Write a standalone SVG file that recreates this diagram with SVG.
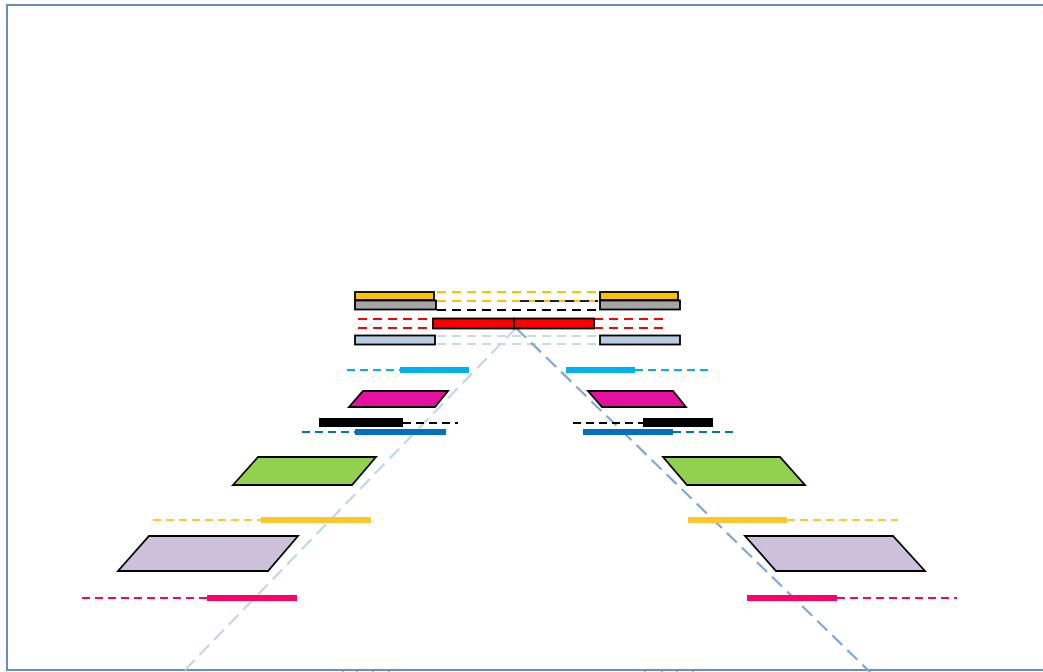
<svg xmlns="http://www.w3.org/2000/svg" width="1043" height="672" viewBox="0 0 1043 672">
  <style>
    .box { stroke: #000; stroke-width: 1.8; }
    .para { stroke: #000; stroke-width: 1.8; stroke-linejoin: miter; }
    .bar { stroke-width: 6; stroke-linecap: butt; fill: none; }
    .dash { stroke-width: 2; stroke-dasharray: 8 5; fill: none; }
    .dashTop { stroke-width: 1.8; stroke-dasharray: 9 6; fill: none; }
  </style>
  <rect x="0" y="0" width="1043" height="672" fill="#fff"/>
  <!-- frame -->
  <rect x="7" y="5" width="1045" height="665" fill="none" stroke="#6a8dbd" stroke-width="2"/>
  <g id="frame-ticks" stroke="#6a8dbd" stroke-width="1.2">
    <line x1="343" y1="670" x2="343" y2="672"/>
    <line x1="357" y1="670" x2="357" y2="672"/>
    <line x1="373" y1="670" x2="373" y2="672"/>
    <line x1="389" y1="670" x2="389" y2="672"/>
    <line x1="645" y1="670" x2="645" y2="672"/>
    <line x1="662" y1="670" x2="662" y2="672"/>
    <line x1="677" y1="670" x2="677" y2="672"/>
    <line x1="693" y1="670" x2="693" y2="672"/>
  </g>

  <!-- connectors: dashed guide lines -->
  <g id="connectors">
    <line class="dashTop" x1="437" y1="292" x2="598" y2="292" stroke="#ffc000"/>
    <line class="dashTop" x1="437" y1="301" x2="598" y2="301" stroke="#ffc000"/>
    <line class="dashTop" x1="520" y1="301" x2="598" y2="301" stroke="#222" stroke-dasharray="5 11"/>
    <line class="dashTop" x1="437" y1="310" x2="598" y2="310" stroke="#000"/>
    <line class="dashTop" x1="358" y1="319" x2="433" y2="319" stroke="#ff0000"/>
    <line class="dashTop" x1="358" y1="328" x2="433" y2="328" stroke="#ff0000"/>
    <line class="dashTop" x1="594" y1="319" x2="666" y2="319" stroke="#ff0000"/>
    <line class="dashTop" x1="594" y1="328" x2="666" y2="328" stroke="#ff0000"/>
    <line class="dashTop" x1="437" y1="336" x2="598" y2="336" stroke="#c5d9f1"/>
    <line class="dashTop" x1="437" y1="344" x2="598" y2="344" stroke="#c5d9f1"/>

    <!-- perspective guides -->
    <line x1="516" y1="328" x2="183" y2="672" stroke="#c2d6ee" stroke-width="2.2" stroke-dasharray="14 7"/>
    <line x1="516" y1="328" x2="870" y2="672" stroke="#7fa8da" stroke-width="2.2" stroke-dasharray="14 7"/>

    <line class="dash" x1="347" y1="370" x2="400" y2="370" stroke="#00b0f0"/>
    <line class="dash" x1="635" y1="370" x2="709" y2="370" stroke="#00b0f0"/>
    <line class="dash" x1="403" y1="423" x2="458" y2="423" stroke="#000"/>
    <line class="dash" x1="573" y1="423" x2="643" y2="423" stroke="#000"/>
    <line class="dash" x1="302" y1="432" x2="355" y2="432" stroke="#0070c0"/>
    <line class="dash" x1="673" y1="432" x2="734" y2="432" stroke="#0070c0"/>
    <line class="dash" x1="153" y1="520" x2="261" y2="520" stroke="#ffc72c"/>
    <line class="dash" x1="787" y1="520" x2="898" y2="520" stroke="#ffc72c"/>
    <line class="dash" x1="82" y1="598" x2="207" y2="598" stroke="#ff0066"/>
    <line class="dash" x1="837" y1="598" x2="957" y2="598" stroke="#ff0066"/>
  </g>

  <!-- upper stack -->
  <g id="top-left">
    <rect class="box" x="355" y="300.5" width="81" height="9" fill="#a6a6a6"/>
    <rect class="box" x="355" y="292" width="79" height="8" fill="#ffc000"/>
    <rect class="box" x="355" y="335.5" width="80" height="9" fill="#b8cce4"/>
  </g>
  <g id="top-right">
    <rect class="box" x="600" y="300.5" width="80" height="9" fill="#a6a6a6"/>
    <rect class="box" x="600" y="292" width="78" height="8" fill="#ffc000"/>
    <rect class="box" x="600" y="335.5" width="80" height="9" fill="#b8cce4"/>
  </g>
  <g id="center-red">
    <rect class="box" x="433" y="318.5" width="81" height="10" fill="#ff0000"/>
    <rect class="box" x="514" y="318.5" width="80" height="10" fill="#ff0000"/>
  </g>

  <!-- cyan bars -->
  <g id="cyan-left"><line class="bar" x1="400" y1="370" x2="469" y2="370" stroke="#00b0f0"/></g>
  <g id="cyan-right"><line class="bar" x1="566" y1="370" x2="635" y2="370" stroke="#00b0f0"/></g>

  <!-- magenta tiles -->
  <g id="magenta-left"><polygon class="para" points="349,407 363,391 448,391 435,407" fill="#e50fa0"/></g>
  <g id="magenta-right"><polygon class="para" points="588,391 673,391 686,407 602,407" fill="#e50fa0"/></g>

  <!-- black bars -->
  <g id="black-left"><rect x="319" y="418" width="84" height="9" fill="#000"/></g>
  <g id="black-right"><rect x="643" y="418" width="70" height="9" fill="#000"/></g>

  <!-- blue bars -->
  <g id="blue-left"><line class="bar" x1="355" y1="432" x2="446" y2="432" stroke="#0070c0"/></g>
  <g id="blue-right"><line class="bar" x1="583" y1="432" x2="673" y2="432" stroke="#0070c0"/></g>

  <!-- green tiles -->
  <g id="green-left"><polygon class="para" points="233,485 258,457 376,457 352,485" fill="#92d050"/></g>
  <g id="green-right"><polygon class="para" points="663,457 780,457 805,485 687,485" fill="#92d050"/></g>

  <!-- yellow bars -->
  <g id="yellow-left"><line class="bar" x1="261" y1="520" x2="371" y2="520" stroke="#ffc72c" stroke-width="7"/></g>
  <g id="yellow-right"><line class="bar" x1="688" y1="520" x2="787" y2="520" stroke="#ffc72c" stroke-width="7"/></g>

  <!-- lavender tiles -->
  <g id="lavender-left"><polygon class="para" points="118,571 149,536 298,536 268,571" fill="#ccc0da"/></g>
  <g id="lavender-right"><polygon class="para" points="745,536 893,536 925,571 776,571" fill="#ccc0da"/></g>

  <!-- pink bars -->
  <g id="pink-left"><line class="bar" x1="207" y1="598" x2="297" y2="598" stroke="#ff0066" stroke-width="7"/></g>
  <g id="pink-right"><line class="bar" x1="747" y1="598" x2="837" y2="598" stroke="#ff0066" stroke-width="7"/></g>
</svg>
